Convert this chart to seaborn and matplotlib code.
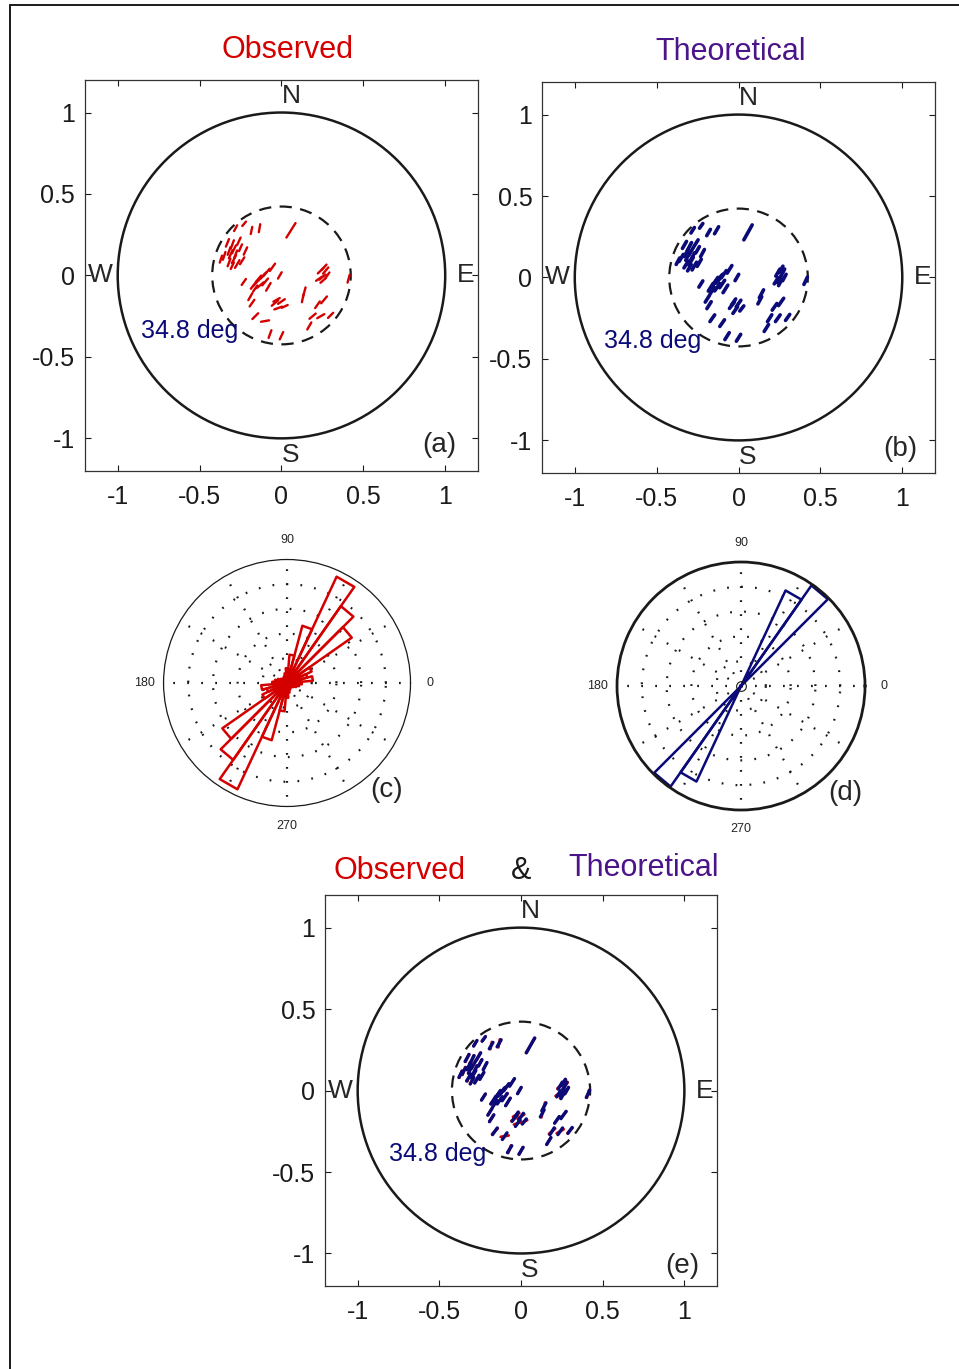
import numpy as np
import pandas as pd
import matplotlib
matplotlib.use("Agg")
import matplotlib.pyplot as plt
import matplotlib.patches as mpatches
import seaborn as sns

# Polarization vectors: position on the projection, orientation (deg) and length
seg_x = [0.058, -0.183, -0.134, -0.228, -0.28,
         -0.33, -0.30, -0.26, -0.35, -0.31, -0.29, -0.32, -0.27, -0.22, -0.24, -0.37, -0.29,
         -0.32, -0.28, -0.30, -0.25,
         -0.055, -0.09, -0.12, -0.15, -0.17, -0.13, -0.10, -0.01, -0.23, -0.08,
         -0.14, -0.11, -0.16,
         -0.19, -0.18, -0.04, 0.00, -0.02, -0.03, 0.02, 0.14, 0.13,
         0.24, 0.27, 0.25, 0.28, 0.23, 0.26, 0.255, 0.41, 0.26, 0.22,
         0.19, 0.24, 0.30, 0.17, -0.16, -0.10, -0.07, 0.00]
seg_y = [0.277, 0.276, 0.29, 0.317, 0.29,
         0.20, 0.19, 0.21, 0.12, 0.13, 0.10, 0.08, 0.07, 0.15, 0.09, 0.10, 0.16,
         0.15, 0.13, 0.06, 0.17,
         0.05, 0.02, -0.01, -0.04, -0.06, -0.06, -0.04, 0.00, -0.04, -0.07,
         -0.02, 0.00, -0.08,
         -0.13, -0.17, -0.17, -0.16, -0.20, -0.15, -0.19, -0.10, -0.14,
         0.03, 0.03, -0.01, 0.00, -0.02, 0.05, -0.03, -0.02, -0.15, -0.18,
         -0.25, -0.25, -0.245, -0.31, -0.25, -0.28, -0.36, -0.37]
ang_theo = [61, 60, 60, 55, 58,
            60, 62, 58, 60, 63, 60, 58, 60, 62, 60, 62, 60,
            60, 62, 60, 60,
            58, 55, 55, 56, 58, 55, 56, 60, 58, 58,
            56, 55, 57,
            58, 58, 52, 55, 55, 55, 52, 62, 62,
            60, 62, 60, 62, 58, 60, 62, 65, 55, 55,
            58, 55, 55, 58, 55, 55, 58, 58]
ang_obs = [58, 78, 80, 50, 62,
           68, 70, 65, 72, 66, 62, 70, 60, 65, 58, 72, 64,
           70, 68, 64, 66,
           55, 50, 45, 48, 52, 40, 50, 60, 55, 60,
           50, 48, 55,
           60, 55, 40, 35, 20, 30, 25, 75, 78,
           45, 50, 40, 55, 35, 48, 42, 75, 50, 55,
           40, 30, 45, 60, 45, 10, 70, 65]
seg_len = [0.105, 0.045, 0.05, 0.035, 0.04,
           0.05, 0.055, 0.05, 0.05, 0.055, 0.055, 0.05, 0.055, 0.05, 0.05, 0.045, 0.055,
           0.05, 0.05, 0.045, 0.045,
           0.055, 0.055, 0.06, 0.06, 0.055, 0.055, 0.055, 0.045, 0.045, 0.055,
           0.05, 0.05, 0.045,
           0.05, 0.05, 0.05, 0.05, 0.05, 0.045, 0.04, 0.055, 0.05,
           0.05, 0.05, 0.05, 0.045, 0.045, 0.045, 0.045, 0.05, 0.055, 0.05,
           0.05, 0.05, 0.045, 0.05, 0.05, 0.05, 0.05, 0.05]

cone_radius = 0.423
cone_label = "34.8 deg"

# rose diagrams: 10 deg bins centred on 0, 10, ..., 350 (normalised length)
rose_bins = list(range(0, 360, 10))
rose_obs = [0.12, 0.21, 0.17, 0.22, 0.64, 0.76, 0.95, 0.48, 0.23, 0.12,
            0.08, 0.06, 0.05, 0.04, 0.05, 0.06, 0.08, 0.10,
            0.12, 0.21, 0.17, 0.22, 0.64, 0.76, 0.95, 0.48, 0.23, 0.12,
            0.08, 0.06, 0.05, 0.04, 0.05, 0.06, 0.08, 0.10]
rose_theo = [0, 0, 0, 0, 0, 0.99, 0.85, 0, 0, 0, 0, 0, 0, 0, 0, 0, 0, 0,
             0, 0, 0, 0, 0, 0.99, 0.85, 0, 0, 0, 0, 0, 0, 0, 0, 0, 0, 0]

ticks = [-1, -0.5, 0, 0.5, 1]
tick_labels = ["-1", "-0.5", "0", "0.5", "1"]

RED = "#d40000"
NAVY = "#0a0a78"
PURPLE = "#4b1489"

sns.set_theme(style="white")
plt.rcParams['font.family'] = ['Liberation Sans', 'DejaVu Sans']

fig = plt.figure(figsize=(9.59, 13.69), dpi=100)


def segments(angles):
    rows = []
    for i, (x, y, a, L) in enumerate(zip(seg_x, seg_y, angles, seg_len)):
        dx = 0.5 * L * np.cos(np.radians(a))
        dy = 0.5 * L * np.sin(np.radians(a))
        rows.append((i, x - dx, y - dy))
        rows.append((i, x + dx, y + dy))
    return pd.DataFrame(rows, columns=["seg", "x", "y"])


def draw_map(pos, layers, panel, panel_xy, deg_xy):
    ax = fig.add_axes(pos)
    ax.add_patch(mpatches.Circle((0, 0), 1, fill=False, lw=1.8, ec="k"))
    ax.add_patch(mpatches.Circle((0, 0), cone_radius, fill=False, lw=1.6,
                                 ec="k", ls=(0, (5.5, 3.8))))
    for df, color, lw in layers:
        sns.lineplot(data=df, x="x", y="y", units="seg", estimator=None,
                     sort=False, color=color, lw=lw, ax=ax, legend=False)
    ax.set_xlim(-1.2, 1.2)
    ax.set_ylim(-1.2, 1.2)
    ax.set_xticks(ticks)
    ax.set_xticklabels(tick_labels)
    ax.set_yticks(ticks)
    ax.set_yticklabels(tick_labels)
    ax.set_xlabel("")
    ax.set_ylabel("")
    ax.tick_params(direction="in", length=4, width=0.8, colors="k", labelsize=18,
                   bottom=True, top=True, left=True, right=True)
    ax.tick_params(axis="x", pad=10)
    ax.tick_params(axis="y", pad=7)
    for s in ax.spines.values():
        s.set_color("#333333")
        s.set_linewidth(0.9)
    ax.text(0, 1.1, "N", fontsize=19, ha="left", va="center")
    ax.text(0, -1.1, "S", fontsize=19, ha="left", va="center")
    ax.text(-1.18, 0, "W", fontsize=19, ha="left", va="center")
    ax.text(1.07, 0, "E", fontsize=19, ha="left", va="center")
    ax.text(deg_xy[0], deg_xy[1], cone_label, fontsize=18, color=NAVY,
            ha="left", va="center")
    ax.text(panel_xy[0], panel_xy[1], panel, fontsize=20, ha="left", va="center")
    return ax


def draw_rose(pos, values, color, spine_lw, panel, panel_xy, centre_mark=False):
    ax = fig.add_axes(pos, projection="polar")
    for c, r in zip(rose_bins, values):
        if r <= 0:
            continue
        t1, t2 = np.radians(c - 5), np.radians(c + 5)
        ax.plot([0, t1, t2, 0], [0, r, r, 0], color=color, lw=1.8)
    if centre_mark:
        ax.plot([0], [0], marker="o", ms=7, mfc="none", mec="k", mew=0.8)
    ax.set_ylim(0, 1)
    ax.set_rgrids([0.2, 0.4, 0.6, 0.8], labels=[""] * 4)
    labels = ["" for _ in range(12)]
    labels[0], labels[3], labels[6], labels[9] = "0", "90", "180", "270"
    ax.set_thetagrids(range(0, 360, 30), labels=labels)
    ax.grid(True, color="k", ls=(0, (0.8, 5.5)), lw=1.6)
    ax.spines["polar"].set_linewidth(spine_lw)
    ax.spines["polar"].set_color("k")
    ax.tick_params(axis="x", labelsize=9, pad=1)
    ax.set_facecolor("none")
    fig.text(panel_xy[0], panel_xy[1], panel, fontsize=20, ha="left", va="center")
    return ax


obs_df = segments(ang_obs)
theo_df = segments(ang_theo)

draw_map([0.0886, 0.656, 0.4098, 0.2856], [(obs_df, RED, 1.7)],
         "(a)", (0.86, -1.04), (-0.86, -0.34))
draw_map([0.5652, 0.6545, 0.4098, 0.2856], [(theo_df, NAVY, 2.6)],
         "(b)", (0.884, -1.05), (-0.82, -0.39))
draw_map([0.3389, 0.0606, 0.4088, 0.2856], [(obs_df, RED, 2.0), (theo_df, NAVY, 2.4)],
         "(e)", (0.88, -1.08), (-0.81, -0.39))

draw_rose([0.1705, 0.4109, 0.2576, 0.1804], rose_obs, RED, 0.9,
          "(c)", (370 / 959, 1 - 790 / 1369))
draw_rose([0.6434, 0.4083, 0.2586, 0.1812], rose_theo, NAVY, 2.0,
          "(d)", (828 / 959, 1 - 793 / 1369), centre_mark=True)

fig.text(0.2993, 0.9635, "Observed", color=RED, fontsize=22, ha="center", va="center")
fig.text(0.7622, 0.962, "Theoretical", color=PURPLE, fontsize=22, ha="center", va="center")
fig.text(0.4171, 0.3638, "Observed", color=RED, fontsize=22, ha="center", va="center")
fig.text(0.5433, 0.3638, "&", color="k", fontsize=22, ha="center", va="center")
fig.text(0.6715, 0.366, "Theoretical", color=PURPLE, fontsize=22, ha="center", va="center")

fig.add_artist(mpatches.Rectangle((0.0104, -0.05), 1.2, 1.0463, transform=fig.transFigure,
                                  fill=False, lw=1.4, ec="k"))

fig.savefig("out.png", dpi=100)
